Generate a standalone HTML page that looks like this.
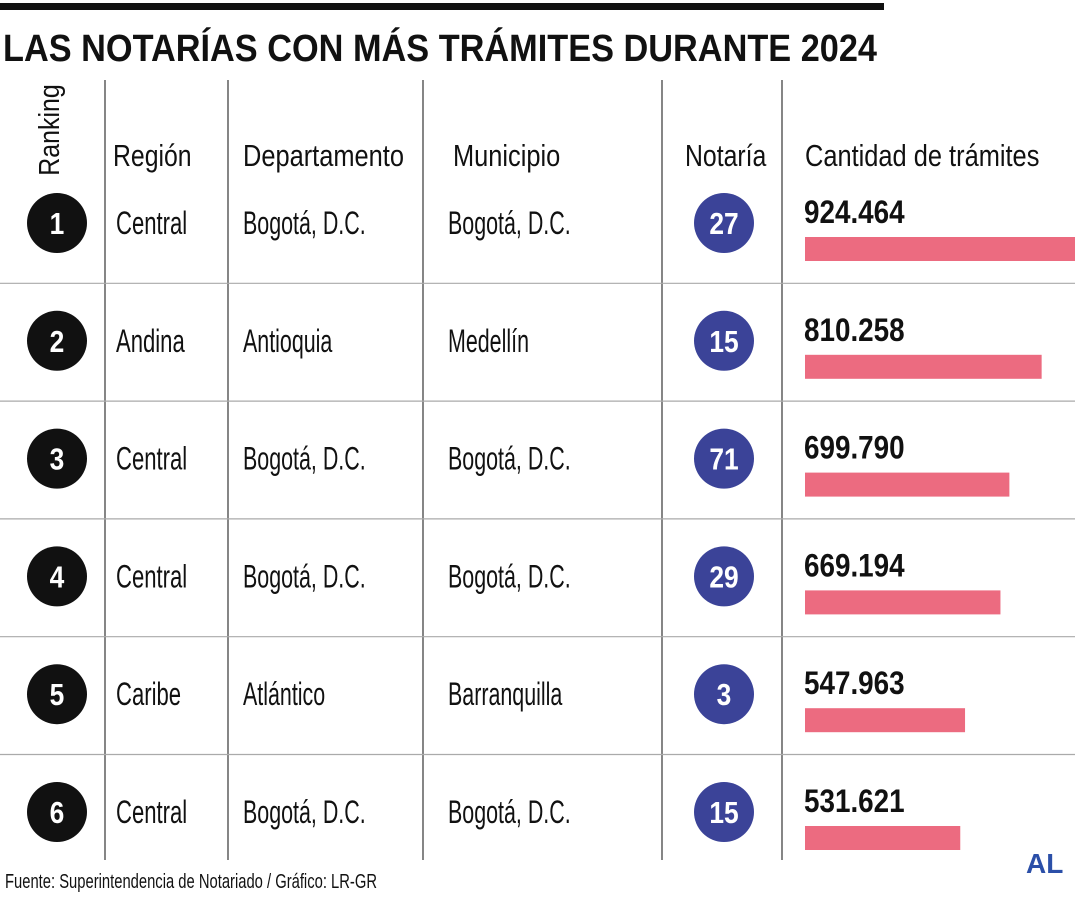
<!DOCTYPE html>
<html><head><meta charset="utf-8">
<style>
html,body{margin:0;padding:0;background:#fff;}
svg{display:block;}
text{font-family:"Liberation Sans Narrow","Liberation Sans",sans-serif;}
</style></head>
<body>
<svg id="chart" width="1080" height="900" viewBox="0 0 1080 900">
<rect x="0" y="3" width="884" height="7" fill="#111"/>
<text x="3" y="61" font-size="38" font-weight="bold" fill="#111" textLength="874" lengthAdjust="spacingAndGlyphs">LAS NOTARÍAS CON MÁS TRÁMITES DURANTE 2024</text>
<g id="grid"></g>
<g id="headers" font-size="31" fill="#111">
<text transform="translate(59,130) rotate(-90) scale(0.86,1)" text-anchor="middle" font-size="29">Ranking</text>
<text transform="translate(113,166) scale(0.8,1)">Región</text>
<text transform="translate(243,166) scale(0.82,1)">Departamento</text>
<text transform="translate(453,166) scale(0.82,1)">Municipio</text>
<text transform="translate(685,166) scale(0.8,1)">Notaría</text>
<text transform="translate(805,166) scale(0.82,1)">Cantidad de trámites</text>
</g>
<g id="rows"></g>
<text x="5" y="888" font-size="20" fill="#111" textLength="372" lengthAdjust="spacingAndGlyphs">Fuente: Superintendencia de Notariado / Gráfico: LR-GR</text>
<text x="1026" y="873" font-size="28" font-weight="bold" fill="#2b4fa8" font-family="Liberation Sans, sans-serif">AL</text>
</svg>
<script>
const ranks = [1,2,3,4,5,6];
const regions = ["Central","Andina","Central","Central","Caribe","Central"];
const departments = ["Bogotá, D.C.","Antioquia","Bogotá, D.C.","Bogotá, D.C.","Atlántico","Bogotá, D.C."];
const municipalities = ["Bogotá, D.C.","Medellín","Bogotá, D.C.","Bogotá, D.C.","Barranquilla","Bogotá, D.C."];
const notarias = [27,15,71,29,3,15];
const tramites = [924464,810258,699790,669194,547963,531621];

const NS="http://www.w3.org/2000/svg";
const rowTop=165, rowH=117.8;
const barX=805, barMaxW=270;
const maxV=Math.max(...tramites);
const xScale=v=>barMaxW*v/maxV;
const rowY=i=>rowTop+i*rowH;
function mk(tag,attrs,parent,text){const e=document.createElementNS(NS,tag);for(const k in attrs)e.setAttribute(k,attrs[k]);if(text!==undefined)e.textContent=text;parent.appendChild(e);return e;}
const fmt=v=>v.toString().replace(/\B(?=(\d{3})+(?!\d))/g,".");

const grid=document.getElementById('grid');
[105,228,423,662,782].forEach((x,i)=>{
  const l=mk('line',{x1:x,x2:x,y1:80,y2:860,stroke:'#444','stroke-width':1.3},grid);
  
  
});
for(let i=1;i<ranks.length;i++){
  const y=rowY(i)+0.5;
  const l=mk('line',{x1:0,x2:1075,y1:y,y2:y,stroke:'#aaa','stroke-width':1.2},grid);
  
  
}

const rows=document.getElementById('rows');
ranks.forEach((r,i)=>{
  const cy=rowY(i)+58;
  const g=mk('g',{},rows);
  
  
  const c=mk('circle',{cx:57,cy:cy,r:30,fill:'#111'},g);
  
  
  const rt=mk('text',{transform:`translate(57,${cy+11}) scale(0.85,1)`,'text-anchor':'middle','font-size':31,'font-weight':'bold',fill:'#fff'},g,r);
  
  
  const t1=mk('text',{transform:`translate(116,${cy+11}) scale(0.69,1)`,'font-size':32,fill:'#111'},g,regions[i]);
  
  
  const t2=mk('text',{transform:`translate(243,${cy+11}) scale(0.67,1)`,'font-size':32,fill:'#111'},g,departments[i]);
  
  
  const t3=mk('text',{transform:`translate(448,${cy+11}) scale(0.67,1)`,'font-size':32,fill:'#111'},g,municipalities[i]);
  
  
  const bc=mk('circle',{cx:724,cy:cy,r:30,fill:'#3b4398'},g);
  
  
  const nt=mk('text',{transform:`translate(724,${cy+11}) scale(0.85,1)`,'text-anchor':'middle','font-size':31,'font-weight':'bold',fill:'#fff'},g,notarias[i]);
  
  
  const vt=mk('text',{transform:`translate(804,${cy}) scale(0.87,1)`,'font-size':32,'font-weight':'bold',fill:'#111'},g,fmt(tramites[i]));
  
  
  const b=mk('rect',{x:barX,y:cy+14,width:xScale(tramites[i]),height:24,fill:'#ec6b80'},g);
  
  
});
</script>
</body></html>
